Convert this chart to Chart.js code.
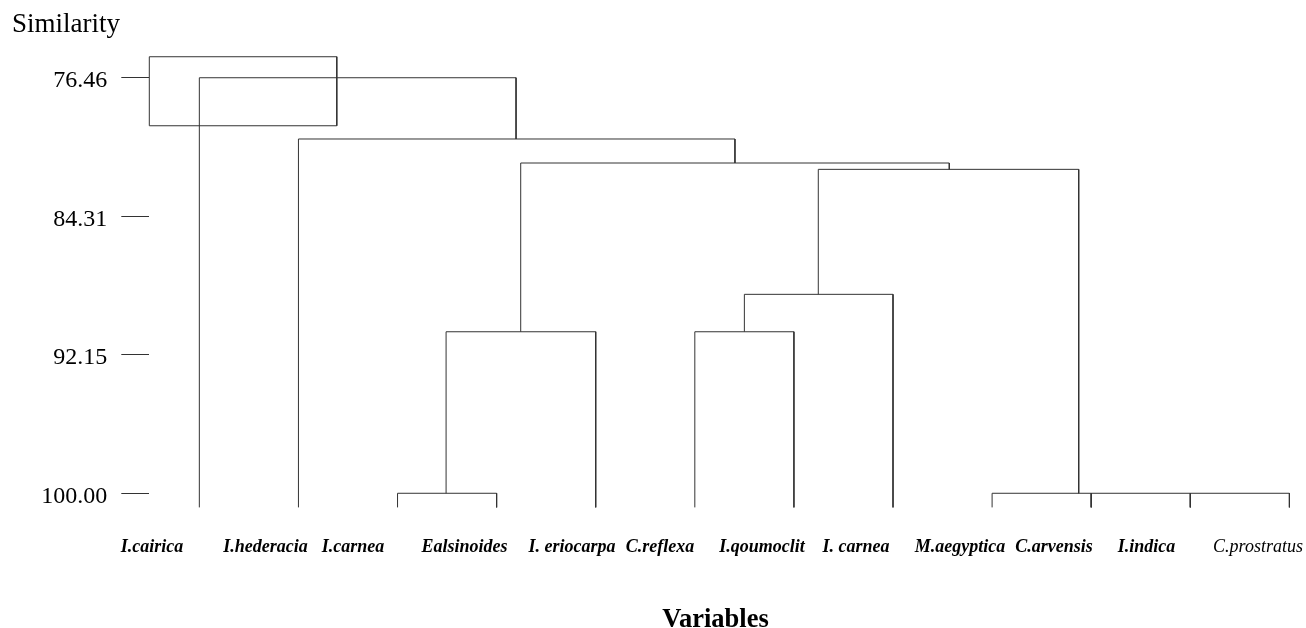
<!DOCTYPE html>
<html><head><meta charset="utf-8">
<script src="https://cdn.jsdelivr.net/npm/chart.js@4.4.1/dist/chart.umd.min.js"></script>
<style>html,body{margin:0;padding:0;background:#fff;}canvas{display:block;}</style>
</head><body>
<canvas id="c" width="1306" height="628"></canvas>
<script>
// Leaf (variable) names and where their labels sit on the x scale (leaf i is at x = i)
const leafNames = ['I.cairica', 'I.hederacia', 'I.carnea', 'Ealsinoides', 'I. eriocarpa', 'C.reflexa',
  'I.qoumoclit', 'I. carnea', 'M.aegyptica', 'C.arvensis', 'I.indica', 'C.prostratus'];
const labelPos = [-0.477, 0.667, 1.551, 2.676, 3.761, 4.648, 5.678, 6.627, 7.676, 8.625, 9.558, 10.683];

// Similarity axis tick values
const yTicks = [76.46, 84.31, 92.15, 100.00];

// Dendrogram links: left/right x, joining similarity, and the bottom ends of each leg
const linkLeftX      = [0,      1,      3.243, 2.49,  2,     6.246, 5.50,  5,     8,     9,     10];
const linkRightX     = [3.196,  5.405,  7.568, 4,     3,     8.874, 7,     6,     9,     10,    11];
const linkTop        = [76.46,  79.93,  81.29, 90.85, 100,   81.65, 88.73, 90.85, 100,   100,   100];
const linkLeftBottom = [100.8,  100.8,  90.85, 100,   100.8, 88.73, 90.85, 100.8, 100.8, 100.8, 100.8];
const linkRightBottom= [79.93,  81.29,  81.65, 100.8, 100.8, 100,   100.8, 100.8, 100.8, 100.8, 100.8];

// Rectangle drawn round the first merge
const boxX = [-0.505, 1.387];
const boxY = [75.27, 79.18];

const lineColor = '#333';
const datasets = linkLeftX.map((lx, i) => ({
  data: [
    {x: lx, y: linkLeftBottom[i]},
    {x: lx, y: linkTop[i]},
    {x: linkRightX[i], y: linkTop[i]},
    {x: linkRightX[i], y: linkRightBottom[i]}
  ],
  showLine: true, borderColor: lineColor, borderWidth: 1, pointRadius: 0, tension: 0, fill: false, clip: false
}));
datasets.push({
  data: [
    {x: boxX[0], y: boxY[0]}, {x: boxX[1], y: boxY[0]}, {x: boxX[1], y: boxY[1]},
    {x: boxX[0], y: boxY[1]}, {x: boxX[0], y: boxY[0]}
  ],
  showLine: true, borderColor: lineColor, borderWidth: 1, pointRadius: 0, tension: 0, fill: false, clip: false
});

const varTitle = {
  id: 'varTitle',
  afterDraw(chart) {
    const c = chart.ctx;
    c.save();
    c.font = 'bold 26.5px "Liberation Serif"';
    c.fillStyle = '#000';
    c.textAlign = 'center';
    c.textBaseline = 'alphabetic';
    c.fillText('Variables', 715.5, 627);
    c.restore();
  }
};

new Chart(document.getElementById('c'), {
  type: 'scatter',
  data: {datasets},
  plugins: [varTitle],
  options: {
    responsive: false, animation: false, devicePixelRatio: 1,
    layout: {padding: {left: 12, right: 6.7, top: 0, bottom: 0}},
    plugins: {
      legend: {display: false}, tooltip: {enabled: false},
      title: {display: true, text: 'Similarity', align: 'start', color: '#000',
        font: {family: 'Liberation Serif', size: 27, weight: 'normal'}, padding: {top: 8.8, bottom: 14.3}}
    },
    scales: {
      x: {
        type: 'linear', min: -0.505, max: 11.1,
        grid: {display: false, drawTicks: false}, border: {display: false},
        afterBuildTicks: s => { s.ticks = labelPos.map(v => ({value: v})); },
        ticks: {
          autoSkip: false, maxRotation: 0, minRotation: 0, padding: 29, color: '#000',
          callback: (v, i) => leafNames[i],
          font: ctx => ({family: 'Liberation Serif', size: 18, style: 'italic', weight: ctx.index === 11 ? 'normal' : 'bold'})
        },
        afterFit: s => { s.height = 120.6; s.paddingLeft = 0; s.paddingRight = 0; }
      },
      y: {
        type: 'linear', reverse: true, min: 75.2, max: 100.8,
        afterBuildTicks: s => { s.ticks = yTicks.map(v => ({value: v})); },
        grid: {display: true, drawOnChartArea: false, drawTicks: true, tickLength: 28, tickColor: lineColor, tickWidth: 1},
        border: {display: false},
        ticks: {padding: 14, color: '#000', labelOffset: 3, font: {family: 'Liberation Serif', size: 24},
          callback: v => Number(v).toFixed(2)},
        afterFit: s => { s.width = 137.3; s.paddingTop = 0; s.paddingBottom = 0; }
      }
    }
  }
});
</script>
</body></html>
